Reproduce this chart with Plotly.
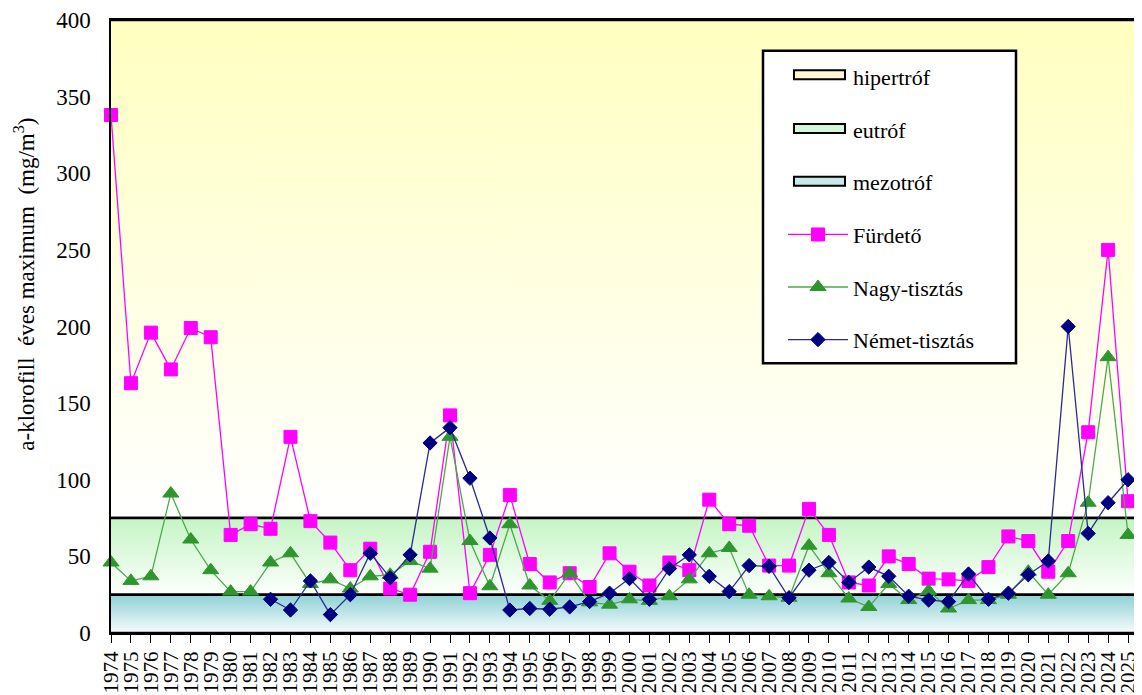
import plotly.graph_objects as go

years = list(range(1974, 2026))

furdeto = [338, 163, 196, 172, 199, 193, 64, 71, 68, 128, 73, 59, 41, 55, 29, 25, 53, 142, 26, 51,
           90, 45, 33, 39, 30, 52, 40, 31, 46, 41, 87, 71, 70, 44, 44, 81, 64, 33, 31, 50,
           45, 35.5, 35, 34, 43, 63, 60, 40, 60, 131, 250, 86]

nagy = [46, 34, 37, 91, 61, 41, 27, 27, 46, 52, 32, 35, 29, 37, 38, 47, 42, 128, 60, 30.5,
        71, 31, 21, 39, 20, 18.5, 22, 21, 24, 35, 52, 55.5, 25, 24, 23, 57, 39, 22.5, 17, 32,
        21.5, 27.5, 16, 21.5, 21.5, 25, 40, 25, 39, 85, 180, 64]

nemet = [None, None, None, None, None, None, None, None, 22, 15, 34, 12, 25, 52, 36, 51, 124, 134, 101, 62,
         15, 16, 15.5, 17, 20.5, 26, 35.5, 22, 42, 51, 37, 27, 44, 43.5, 23, 41, 46, 33, 43, 37,
         24, 21.5, 20.5, 38.5, 22, 26, 38, 47, 200, 65, 85, 100]

band_names = ["hipertróf", "eutróf", "mezotróf"]
band_lo = [75, 25, 0]
band_hi = [400, 75, 25]
band_colors = ["#FFFFC0", "#C6F5C6", "#96D4D8"]
band_legend_colors = ["#FFF8D2", "#D4F7DA", "#C6EAEC"]

FONT = "Liberation Serif, Times New Roman, serif"

fig = go.Figure()

# trophic bands (background)
for i in range(3):
    lo, hi = band_lo[i], band_hi[i]
    fig.add_trace(go.Scatter(
        x=[1972, 2028, 2028, 1972, 1972],
        y=[lo, lo, hi, hi, lo],
        mode="lines",
        fill="toself",
        fillgradient=dict(type="vertical", start=lo, stop=hi,
                          colorscale=[[0, "#FFFFFF"], [1, band_colors[i]]]),
        line=dict(color="black", width=2.5),
        showlegend=False,
        hoverinfo="skip",
    ))

# legend-only entries for the bands (symbol drawn as shapes)
for i in range(3):
    fig.add_trace(go.Scatter(
        x=[None], y=[None], mode="lines", name=band_names[i],
        line=dict(color="rgba(0,0,0,0)", width=0),
        legendgroup=f"g{i}",
    ))

fig.add_trace(go.Scatter(
    x=years, y=furdeto, mode="lines+markers", name="Fürdető",
    line=dict(color="#FF00FF", width=1.3),
    marker=dict(symbol="square", size=13, color="#FF00FF", line=dict(color="#FF00FF", width=1)),
    cliponaxis=False, legendgroup="g3",
))
fig.add_trace(go.Scatter(
    x=years, y=nagy, mode="lines+markers", name="Nagy-tisztás",
    line=dict(color="#4FA84F", width=1.3),
    marker=dict(symbol="triangle-up", size=14, color="#2F962F", line=dict(color="#2F962F", width=1)),
    cliponaxis=False, legendgroup="g4",
))
fig.add_trace(go.Scatter(
    x=years, y=nemet, mode="lines+markers", name="Német-tisztás",
    line=dict(color="#2A2A90", width=1.3),
    marker=dict(symbol="diamond", size=11, color="#000080", line=dict(color="#000080", width=1)),
    cliponaxis=False, legendgroup="g5", connectgaps=False,
))

# plot area in page pixels: x 111..1142, y 17..633 (figure is offset 8px by the page body)
def px(xp):
    return (xp - 111) / 1031.0

def py(yp):
    return (633 - yp) / 616.0

shapes = [dict(type="rect", xref="paper", yref="paper",
               x0=px(763), x1=px(1016), y0=py(362), y1=py(48),
               line=dict(color="black", width=2.5), fillcolor="white", layer="above")]
sym_centers = [72, 126, 179]
for i in range(3):
    c = sym_centers[i]
    shapes.append(dict(type="rect", xref="paper", yref="paper",
                       x0=px(794), x1=px(845), y0=py(c + 4.5), y1=py(c - 4.5),
                       line=dict(color="black", width=2), fillcolor=band_legend_colors[i],
                       layer="above"))

fig.update_layout(
    width=1134, height=687,
    margin=dict(l=103, r=0, t=9, b=62),
    paper_bgcolor="white",
    plot_bgcolor="white",
    font=dict(family=FONT, color="black", size=20),
    showlegend=True,
    legend=dict(
        x=px(783), y=py(53), xanchor="left", yanchor="top",
        bgcolor="rgba(0,0,0,0)", borderwidth=0,
        font=dict(family=FONT, size=22, color="black"),
        tracegroupgap=21, traceorder="grouped", itemwidth=60,
    ),
    shapes=shapes,
    xaxis=dict(
        range=[1974, 2025.7],
        tickmode="array", tickvals=years, ticktext=[str(y) for y in years],
        tickangle=-90, ticks="outside", ticklen=8, tickcolor="black", tickwidth=1,
        showline=True, linecolor="black", linewidth=2, mirror=True,
        showgrid=False, zeroline=False,
        tickfont=dict(family=FONT, size=21, color="black"),
        ticklabeloverflow="allow",
    ),
    yaxis=dict(
        range=[0, 400], tickmode="array", tickvals=[0, 50, 100, 150, 200, 250, 300, 350, 400],
        ticks="", showline=True, linecolor="black", linewidth=1.5,
        showgrid=False, zeroline=False,
        tickfont=dict(family=FONT, size=23, color="black"),
        ticklabelstandoff=14, ticklabeloverflow="allow",
    ),
    annotations=[dict(
        text="a-klorofill\u00a0\u00a0éves maximum\u00a0\u00a0(mg/m<sup>3</sup>)",
        xref="paper", yref="paper", x=px(25), y=py(283),
        xanchor="center", yanchor="middle", textangle=-90, showarrow=False,
        font=dict(family=FONT, size=23, color="black"),
    )],
)

fig.write_html("out.html")
